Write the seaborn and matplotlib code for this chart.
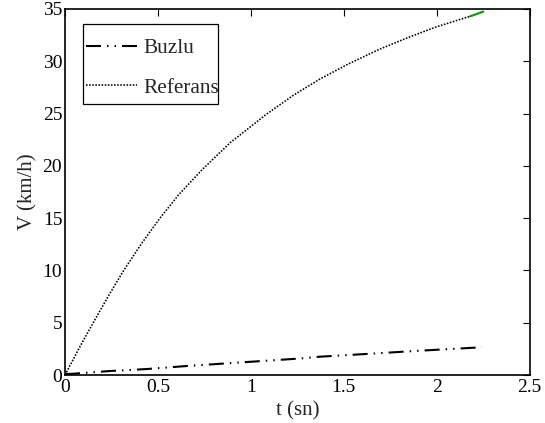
import numpy as np
import pandas as pd
import matplotlib
matplotlib.use("Agg")
import matplotlib.pyplot as plt
from matplotlib.patches import Rectangle
import seaborn as sns

# Data
t_ref = [0.0, 0.08, 0.155, 0.235, 0.314, 0.413, 0.511, 0.61, 0.736, 0.888,
         1.085, 1.229, 1.372, 1.52, 1.686, 1.85, 2.0, 2.18, 2.251]
v_ref = [0.0, 2.7, 5.1, 7.6, 9.95, 12.6, 15.0, 17.2, 19.6, 22.2,
         24.95, 26.75, 28.3, 29.7, 31.1, 32.3, 33.3, 34.3, 34.75]

t_buz = [0.0, 0.027, 0.242, 0.44, 0.655, 0.978, 1.283, 1.372, 1.678, 1.875, 2.243]
v_buz = [0.1, 0.1, 0.38, 0.57, 0.86, 1.24, 1.6, 1.75, 2.07, 2.29, 2.65]

t_grn = [2.18, 2.251]
v_grn = [34.3, 34.75]

labels = ["Buzlu", "Referans"]
xticks = [0, 0.5, 1, 1.5, 2, 2.5]
yticks = [0, 5, 10, 15, 20, 25, 30, 35]

sns.set_style("white")
plt.rcParams["font.family"] = ["Liberation Serif", "DejaVu Serif"]

W, H = 545, 423
fig = plt.figure(figsize=(W / 100, H / 100), dpi=100)
ax = fig.add_axes([65 / W, (H - 375) / H, (529.5 - 65) / W, (375 - 9) / H])

df_buz = pd.DataFrame({"t": t_buz, "v": v_buz})
df_ref = pd.DataFrame({"t": t_ref, "v": v_ref})
df_grn = pd.DataFrame({"t": t_grn, "v": v_grn})

buz_dash = (7.2, 2.9, 0.7, 2.9, 0.7, 2.9)
ref_dash = (1, 0.95)

sns.lineplot(data=df_buz, x="t", y="v", ax=ax, color="black", lw=1.5,
             label=labels[0], sort=False)
sns.lineplot(data=df_ref, x="t", y="v", ax=ax, color="black", lw=1.15,
             label=labels[1], sort=False)
sns.lineplot(data=df_grn, x="t", y="v", ax=ax, color="#1a9a1a", lw=1.6,
             sort=False, legend=False)

lines = ax.get_lines()
lines[0].set_dashes(buz_dash)
lines[1].set_dashes(ref_dash)

ax.set_xlim(0, 2.5)
ax.set_ylim(0, 35)
ax.set_xticks(xticks)
ax.set_xticklabels([f"{x:g}" for x in xticks])
ax.set_yticks(yticks)
ax.set_yticklabels([f"{y:g}" for y in yticks])

ax.tick_params(direction="in", length=5, width=0.8, top=True, right=True,
               labelsize=14, colors="black", pad=2)
ax.tick_params(axis="x", pad=3)
for s in ax.spines.values():
    s.set_visible(True)
    s.set_color("black")
    s.set_linewidth(1.2)

ax.set_xlabel("t (sn)", fontsize=15, labelpad=4)
ax.set_ylabel("V (km/h)", fontsize=15, labelpad=4)

# legend box
box = Rectangle((83 / W, 1 - 104 / H), 135 / W, 80 / H, transform=fig.transFigure,
                facecolor="white", edgecolor="black", lw=0.9, zorder=5, clip_on=False)
ax.add_patch(box)

leg = ax.legend(loc="upper left", bbox_to_anchor=(86 / W, 1 - 38.4 / H),
                bbox_transform=fig.transFigure, borderaxespad=0, borderpad=0,
                fontsize=15.3, handlelength=2.4, handletextpad=0.28,
                labelspacing=0.92, frameon=False)
leg.set_zorder(6)
leg_lines = leg.get_lines()
leg_lines[0].set_dashes(buz_dash)
leg_lines[1].set_dashes(ref_dash)

fig.savefig("out.png", dpi=100)
